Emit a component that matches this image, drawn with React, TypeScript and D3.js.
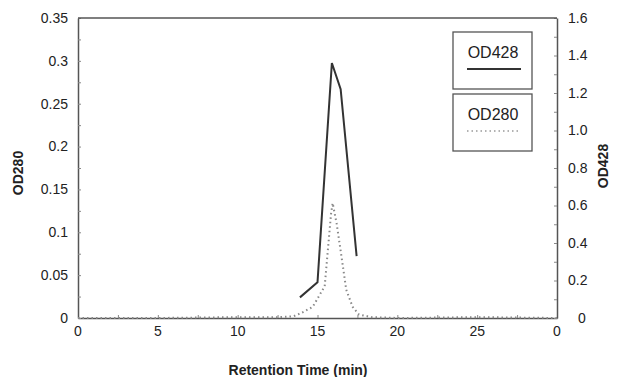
import React, { useEffect, useRef } from 'react';
import * as d3 from 'd3';

// OD428 (solid, right axis) and OD280 (dotted, left axis) vs retention time
const od428Time = [13.9, 15.0, 15.9, 16.45, 17.45];
const od428Value = [0.11, 0.19, 1.36, 1.22, 0.33];

const od280Time = [0, 5, 10, 12.5, 13.5, 14.0, 14.7, 15.45, 15.7, 15.85, 15.95, 16.2, 16.5, 16.8, 17.2, 17.6, 18.4, 20, 25, 30];
const od280Value = [0, 0, 0.001, 0.001, 0.002, 0.006, 0.013, 0.037, 0.09, 0.122, 0.134, 0.11, 0.072, 0.033, 0.013, 0.004, 0.001, 0, 0.001, 0];

const xTicks = [0, 5, 10, 15, 20, 25, 30];
const xTickLabels = ['0', '5', '10', '15', '20', '25', '0'];
const leftTicks = [0, 0.05, 0.1, 0.15, 0.2, 0.25, 0.3, 0.35];
const rightTicks = [0, 0.2, 0.4, 0.6, 0.8, 1.0, 1.2, 1.4, 1.6];

const App = () => {
  const svgRef = useRef<SVGSVGElement>(null);

  useEffect(() => {
    const W = 621, H = 377;
    const m = { left: 78, right: 64, top: 18, bottom: 59 };
    const font = 'Liberation Sans, Arial, sans-serif';

    const x = d3.scaleLinear().domain([0, 30]).range([m.left, W - m.right]);
    const yL = d3.scaleLinear().domain([0, 0.35]).range([H - m.bottom, m.top]);
    const yR = d3.scaleLinear().domain([0, 1.6]).range([H - m.bottom, m.top]);

    const svg = d3.select(svgRef.current).attr('width', W).attr('height', H);
    svg.selectAll('*').remove();
    svg.append('rect').attr('width', W).attr('height', H).attr('fill', '#fff');

    // bottom axis
    const bx = svg.append('g').attr('transform', `translate(0,${H - m.bottom})`)
      .call(d3.axisBottom(x).tickValues(d3.range(0, 30.1, 2.5)).tickSizeInner(-3).tickSizeOuter(0).tickFormat(() => ''));
    bx.append('g').selectAll('text').data(xTicks).join('text')
      .attr('x', d => x(d)).attr('y', 18).attr('text-anchor', 'middle')
      .attr('font-family', font).attr('font-size', 14).attr('fill', '#222')
      .text((d, i) => xTickLabels[i]);

    // left axis
    const lx = svg.append('g').attr('transform', `translate(${m.left},0)`)
      .call(d3.axisLeft(yL).tickValues(d3.range(0, 0.351, 0.025)).tickSizeInner(-3).tickSizeOuter(0).tickFormat(() => ''));
    lx.append('g').selectAll('text').data(leftTicks).join('text')
      .attr('x', -10).attr('y', d => yL(d)).attr('dy', '0.35em').attr('text-anchor', 'end')
      .attr('font-family', font).attr('font-size', 14).attr('fill', '#222')
      .text(d => d3.format('')(+d.toFixed(2)));

    // right axis
    const rx = svg.append('g').attr('transform', `translate(${W - m.right},0)`)
      .call(d3.axisRight(yR).tickValues(d3.range(0, 1.61, 0.1)).tickSizeInner(-3).tickSizeOuter(0).tickFormat(() => ''));
    rx.append('g').selectAll('text').data(rightTicks).join('text')
      .attr('x', d => d === 0 ? 21 : 11).attr('y', d => yR(d)).attr('dy', '0.35em')
      .attr('text-anchor', 'start')
      .attr('font-family', font).attr('font-size', 14).attr('fill', '#222')
      .text(d => d === 0 ? '0' : d.toFixed(1));

    // top border
    svg.append('line').attr('x1', m.left).attr('x2', W - m.right)
      .attr('y1', m.top).attr('y2', m.top).attr('stroke', '#555').attr('stroke-width', 1.5);

    svg.selectAll('.domain').attr('stroke', '#555').attr('stroke-width', 1.5);
    svg.selectAll('.tick line').attr('stroke', '#888');

    // series
    const line280 = d3.line<number>().x((d, i) => x(od280Time[i])).y(d => yL(d));
    svg.append('path').datum(od280Value)
      .attr('fill', 'none').attr('stroke', '#888').attr('stroke-width', 2)
      .attr('stroke-dasharray', '1.5,3').attr('d', line280);

    const line428 = d3.line<number>().x((d, i) => x(od428Time[i])).y(d => yR(d));
    svg.append('path').datum(od428Value)
      .attr('fill', 'none').attr('stroke', '#333').attr('stroke-width', 2).attr('d', line428);

    // legend
    const legend = [
      { name: 'OD428', top: 32, dash: null, color: '#333' },
      { name: 'OD280', top: 94, dash: '1.5,3', color: '#999' },
    ];
    legend.forEach(l => {
      const g = svg.append('g');
      g.append('rect').attr('x', 453).attr('y', l.top).attr('width', 79).attr('height', 57)
        .attr('fill', '#fff').attr('stroke', '#555').attr('stroke-width', 1.3);
      g.append('text').attr('x', 493).attr('y', l.top + 26).attr('text-anchor', 'middle')
        .attr('font-family', font).attr('font-size', 16).attr('fill', '#222').text(l.name);
      const ln = g.append('line').attr('x1', 467).attr('x2', 521)
        .attr('y1', l.top + 37).attr('y2', l.top + 37)
        .attr('stroke', l.color).attr('stroke-width', l.dash ? 1.5 : 2);
      if (l.dash) ln.attr('stroke-dasharray', l.dash);
    });

    // axis titles
    svg.append('text').attr('x', 298).attr('y', 375).attr('text-anchor', 'middle')
      .attr('font-family', font).attr('font-size', 14).attr('font-weight', 'bold').attr('fill', '#222')
      .text('Retention Time (min)');
    svg.append('text').attr('transform', `translate(23,173) rotate(-90)`).attr('text-anchor', 'middle')
      .attr('font-family', font).attr('font-size', 14).attr('font-weight', 'bold').attr('fill', '#222')
      .text('OD280');
    svg.append('text').attr('transform', `translate(608,166) rotate(-90)`).attr('text-anchor', 'middle')
      .attr('font-family', font).attr('font-size', 14).attr('font-weight', 'bold').attr('fill', '#222')
      .text('OD428');
  }, []);

  return (
    <div style={{ position: 'absolute', left: 0, top: 0 }}>
      <svg ref={svgRef}></svg>
    </div>
  );
};

export default App;
